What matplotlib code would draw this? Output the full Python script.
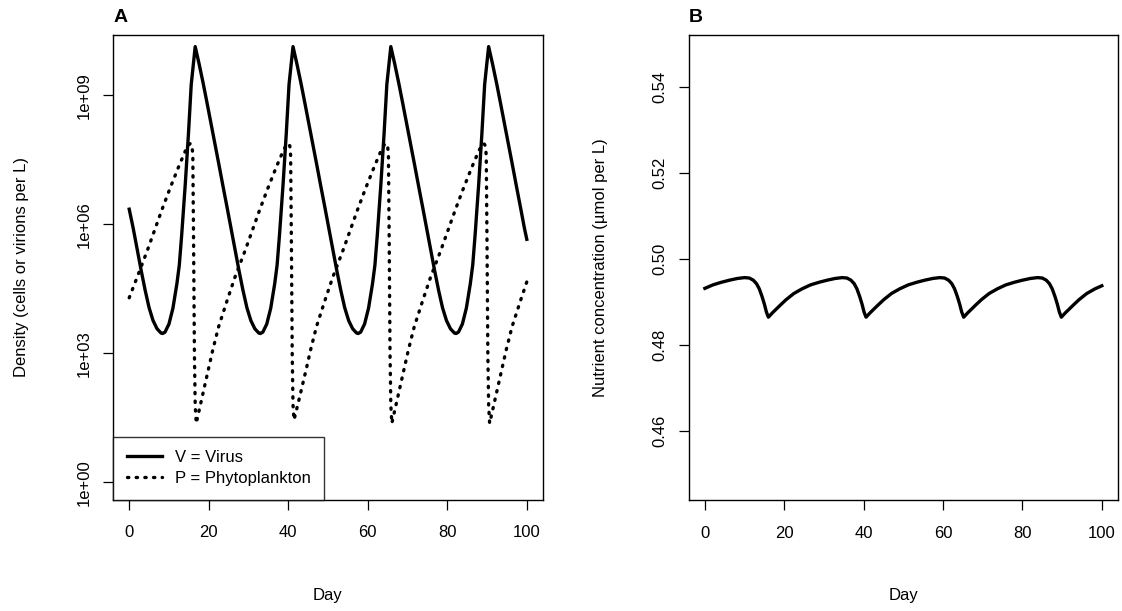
import numpy as np
import matplotlib
matplotlib.use("Agg")
import matplotlib.pyplot as plt
from matplotlib.ticker import FixedLocator, FixedFormatter, NullLocator

plt.rcParams['font.family'] = ['Liberation Sans', 'DejaVu Sans']

# ---- data (log10 densities, nutrient in umol/L) ----
virus_day = [0, 1, 2, 3, 4, 5, 6, 7, 8, 8.4, 9, 10, 11, 12, 12.6, 13.2, 14.1, 14.9, 15.6,
             16.6, 17.6, 18.6, 19.6, 20.6, 21.6, 22.6, 23.6, 24.6, 25.6, 26.6, 27.6, 28.6, 29.6,
             30.6, 31.6, 32.6, 33.0, 33.6, 34.6, 35.6, 36.6, 37.2, 37.8, 38.7, 39.5, 40.2,
             41.2, 42.2, 43.2, 44.2, 45.2, 46.2, 47.2, 48.2, 49.2, 50.2, 51.2, 52.2, 53.2, 54.2,
             55.2, 56.2, 57.2, 57.6, 58.2, 59.2, 60.2, 61.2, 61.8, 62.4, 63.3, 64.1, 64.8,
             65.8, 66.8, 67.8, 68.8, 69.8, 70.8, 71.8, 72.8, 73.8, 74.8, 75.8, 76.8, 77.8, 78.8,
             79.8, 80.8, 81.8, 82.2, 82.8, 83.8, 84.8, 85.8, 86.4, 87.0, 87.9, 88.7, 89.4,
             90.4, 91.4, 92.4, 93.4, 94.4, 95.4, 96.4, 97.4, 98.4, 99.4, 100]
virus_log = [6.35, 5.91, 5.42, 4.93, 4.47, 4.06, 3.76, 3.57, 3.47, 3.46, 3.49, 3.68, 4.05, 4.62, 5.05, 5.75, 6.93, 8.10, 9.25,
             10.13, 9.72, 9.28, 8.81, 8.33, 7.85, 7.37, 6.88, 6.40, 5.91, 5.42, 4.93, 4.47, 4.06,
             3.76, 3.57, 3.47, 3.46, 3.49, 3.68, 4.05, 4.62, 5.05, 5.75, 6.93, 8.10, 9.25,
             10.13, 9.72, 9.28, 8.81, 8.33, 7.85, 7.37, 6.88, 6.40, 5.91, 5.42, 4.93, 4.47, 4.06,
             3.76, 3.57, 3.47, 3.46, 3.49, 3.68, 4.05, 4.62, 5.05, 5.75, 6.93, 8.10, 9.25,
             10.13, 9.72, 9.28, 8.81, 8.33, 7.85, 7.37, 6.88, 6.40, 5.91, 5.42, 4.93, 4.47, 4.06,
             3.76, 3.57, 3.47, 3.46, 3.49, 3.68, 4.05, 4.62, 5.05, 5.75, 6.93, 8.10, 9.25,
             10.13, 9.72, 9.28, 8.81, 8.33, 7.85, 7.37, 6.88, 6.40, 5.91, 5.65]

phyto_day = [0, 2.0, 4.6, 8.2, 10.2, 12.4, 14.1, 14.9, 15.4, 15.8, 16.0,
             16.2, 16.4, 16.6, 16.85, 18, 19, 20, 21, 22.5, 24.6, 26.6, 29.2, 32.8, 34.8, 37, 38.7, 39.5, 40, 40.4, 40.6,
             40.8, 41.0, 41.2, 41.45, 42.6, 43.6, 44.6, 45.6, 47.1, 49.2, 51.2, 53.8, 57.4, 59.4, 61.6, 63.3, 64.1, 64.6, 65.0, 65.2,
             65.4, 65.6, 65.8, 66.05, 67.2, 68.2, 69.2, 70.2, 71.7, 73.8, 75.8, 78.4, 82.0, 84.0, 86.2, 87.9, 88.7, 89.2, 89.6, 89.8,
             90.0, 90.2, 90.4, 90.65, 91.8, 92.8, 93.8, 94.8, 96.3, 98.4, 100]
phyto_log = [4.29, 4.77, 5.40, 6.33, 6.82, 7.33, 7.70, 7.84, 7.88, 7.82, 7.60,
             5.5, 3.0, 1.8, 1.37, 1.84, 2.25, 2.66, 3.07, 3.62, 4.22, 4.77, 5.40, 6.33, 6.82, 7.33, 7.70, 7.84, 7.88, 7.82, 7.60,
             5.5, 3.0, 1.8, 1.45, 1.88, 2.27, 2.66, 3.07, 3.62, 4.22, 4.77, 5.40, 6.33, 6.82, 7.33, 7.70, 7.84, 7.88, 7.82, 7.60,
             5.5, 3.0, 1.8, 1.37, 1.84, 2.25, 2.66, 3.07, 3.62, 4.22, 4.77, 5.40, 6.33, 6.82, 7.33, 7.70, 7.84, 7.88, 7.82, 7.60,
             5.5, 3.0, 1.8, 1.37, 1.84, 2.25, 2.66, 3.07, 3.62, 4.22, 4.66]

nutrient_day = [0, 2.0, 4.1, 6.2, 8.2, 10.0, 11.2, 12.2, 13.0, 13.7, 14.4, 15.0, 15.5, 16.0,
                17, 18, 19, 20.5, 22.4, 24.5, 26.6, 28.7, 30.8, 32.8, 34.6, 35.8, 36.8, 37.6, 38.3, 39.0, 39.6, 40.1, 40.6,
                41.6, 42.6, 43.6, 45.1, 47.0, 49.1, 51.2, 53.3, 55.4, 57.4, 59.2, 60.4, 61.4, 62.2, 62.9, 63.6, 64.2, 64.7, 65.2,
                66.2, 67.2, 68.2, 69.7, 71.6, 73.7, 75.8, 77.9, 80.0, 82.0, 83.8, 85.0, 86.0, 86.8, 87.5, 88.2, 88.8, 89.3, 89.8,
                90.8, 91.8, 92.8, 94.3, 96.2, 98.3, 100]
nutrient_val = [0.4931, 0.4939, 0.4945, 0.4950, 0.4954, 0.4956, 0.4955, 0.4950, 0.4942, 0.4930, 0.4912, 0.4894, 0.4876, 0.4864,
                0.4874, 0.4883, 0.4892, 0.4905, 0.4919, 0.4930, 0.4939, 0.4945, 0.4950, 0.4954, 0.4956, 0.4955, 0.4950, 0.4942, 0.4930, 0.4912, 0.4894, 0.4876, 0.4864,
                0.4874, 0.4883, 0.4892, 0.4905, 0.4919, 0.4930, 0.4939, 0.4945, 0.4950, 0.4954, 0.4956, 0.4955, 0.4950, 0.4942, 0.4930, 0.4912, 0.4894, 0.4876, 0.4864,
                0.4874, 0.4883, 0.4892, 0.4905, 0.4919, 0.4930, 0.4939, 0.4945, 0.4950, 0.4954, 0.4956, 0.4955, 0.4950, 0.4942, 0.4930, 0.4912, 0.4894, 0.4876, 0.4864,
                0.4874, 0.4883, 0.4892, 0.4905, 0.4919, 0.4930, 0.4937]

x_ticks = [0, 20, 40, 60, 80, 100]
dens_ticks = [1e0, 1e3, 1e6, 1e9]
dens_labels = ["1e+00", "1e+03", "1e+06", "1e+09"]
nut_ticks = [0.46, 0.48, 0.50, 0.52, 0.54]
nut_labels = ["0.46", "0.48", "0.50", "0.52", "0.54"]

fig = plt.figure(figsize=(11.22, 6.11), dpi=100)
W, H = 1122, 611


def px_axes(left, right, top, bottom):
    return fig.add_axes([left / W, 1 - bottom / H, (right - left) / W, (bottom - top) / H])


def style(ax):
    for s in ax.spines.values():
        s.set_linewidth(1.0)
        s.set_color("black")
    ax.tick_params(axis="both", direction="out", length=7.2, width=0.9, labelsize=12, colors="black")
    ax.tick_params(axis="x", pad=11.5)
    ax.tick_params(axis="y", pad=8.5)
    ax.set_xlim(-4, 104)
    ax.set_xticks(x_ticks)
    ax.set_xlabel("Day", fontsize=12, labelpad=34)


lw = 2.4

# panel A
axA = px_axes(113.3, 542.7, 35, 499.5)
style(axA)
axA.set_yscale("log")
axA.plot(virus_day, 10 ** np.array(virus_log), color="black", lw=lw, label="V = Virus",
         solid_joinstyle="round")
axA.plot(phyto_day, 10 ** np.array(phyto_log), color="black", lw=lw, label="P = Phytoplankton",
         linestyle=(0, (0.4, 2.2)), dash_capstyle="round")
axA.set_ylim(10 ** -0.4, 10 ** 10.4)
axA.yaxis.set_major_locator(FixedLocator(dens_ticks))
axA.yaxis.set_major_formatter(FixedFormatter(dens_labels))
axA.yaxis.set_minor_locator(NullLocator())
for t in axA.get_yticklabels():
    t.set_rotation(90)
    t.set_va("center")
axA.set_ylabel("Density (cells or virions per L)", fontsize=12, labelpad=34)
leg = axA.legend(loc="lower left", bbox_to_anchor=(0, 0), borderaxespad=0, fontsize=12,
                 frameon=True, fancybox=False, handlelength=2.1, handletextpad=0.8,
                 labelspacing=0.36, borderpad=0.8)
leg.get_frame().set_edgecolor("black")
leg.get_frame().set_linewidth(1.0)
axA.text(0, 1.02, "A", transform=axA.transAxes, fontsize=14, fontweight="bold",
         ha="left", va="bottom")

# panel B
axB = px_axes(689, 1117.7, 35, 500)
style(axB)
axB.plot(nutrient_day, nutrient_val, color="black", lw=lw, solid_joinstyle="round")
axB.set_ylim(0.4439, 0.5520)
axB.set_yticks(nut_ticks)
axB.set_yticklabels(nut_labels, rotation=90, va="center")
axB.set_ylabel("Nutrient concentration (\u00b5mol per L)", fontsize=12, labelpad=32)
axB.text(0, 1.02, "B", transform=axB.transAxes, fontsize=14, fontweight="bold",
         ha="left", va="bottom")

fig.savefig("out.png", dpi=100)
